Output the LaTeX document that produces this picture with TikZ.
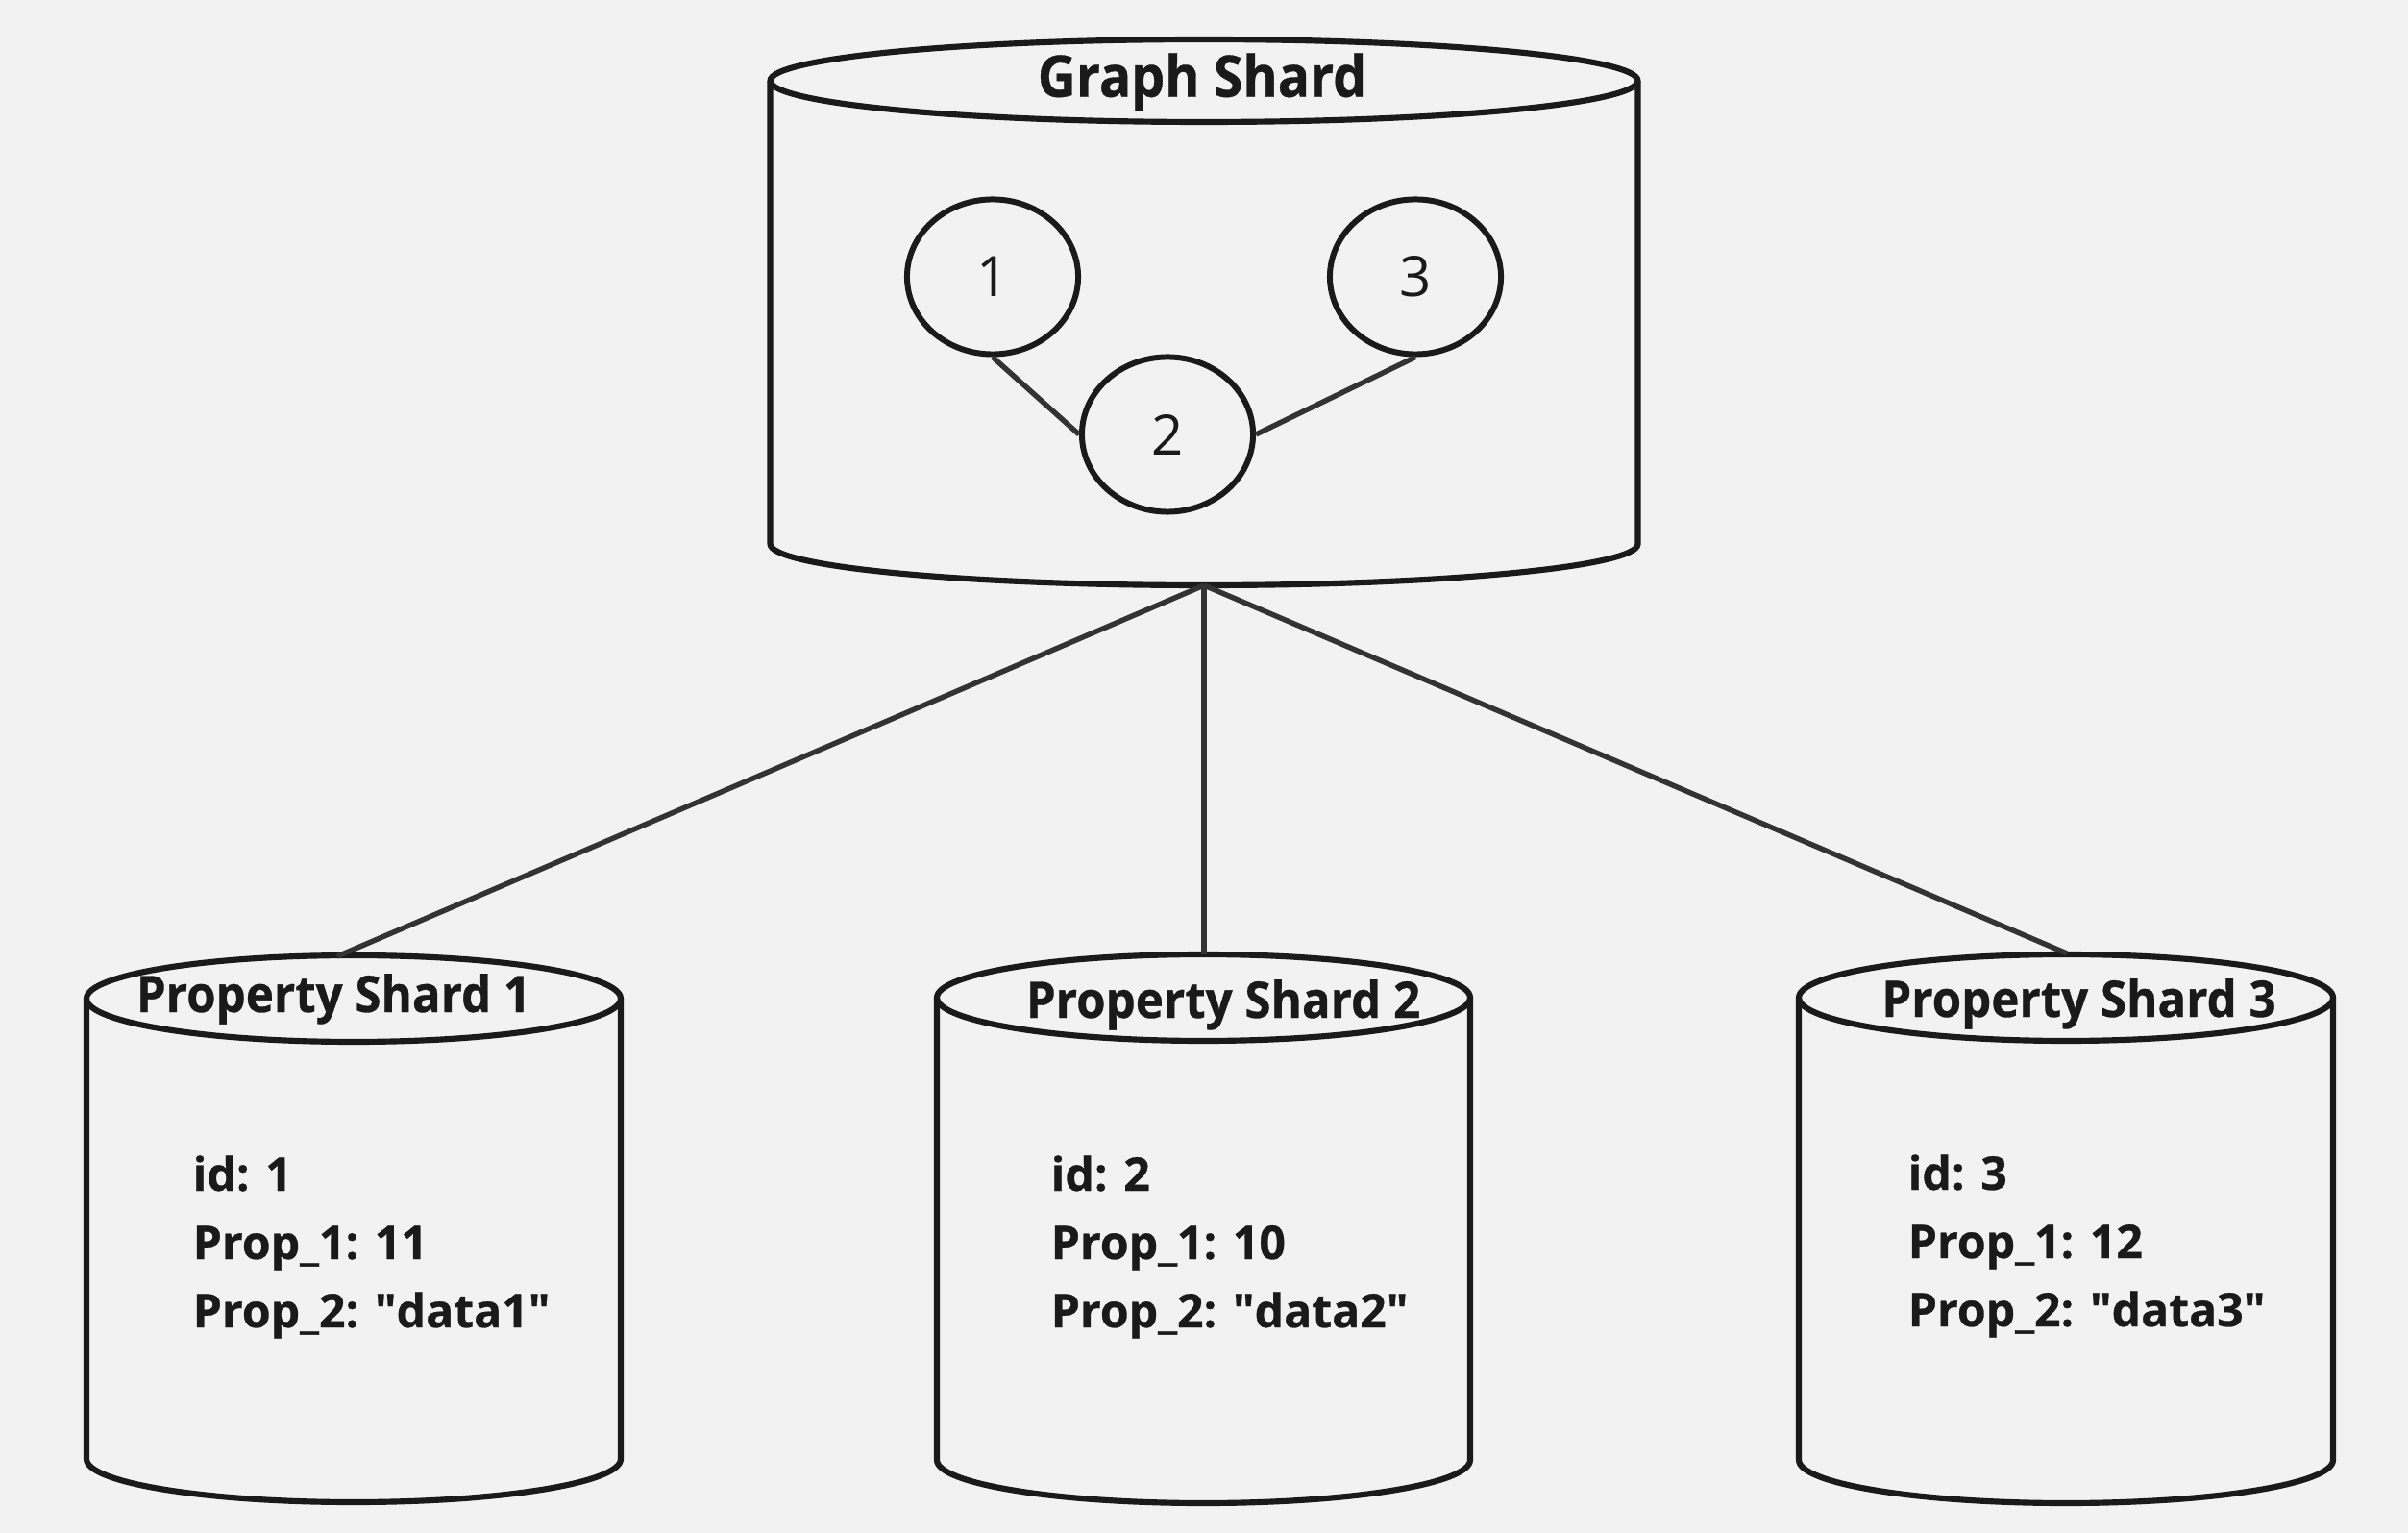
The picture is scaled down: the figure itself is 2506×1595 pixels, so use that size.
\documentclass[tikz,border=0pt]{standalone}
\usepackage{fontspec}
\setmainfont{Open Sans}[BoldFeatures={FakeBold=0.6}]
\usetikzlibrary{shapes.geometric}
\definecolor{bg}{HTML}{F2F2F2}
\definecolor{ink}{HTML}{1A1A1A}
\definecolor{conncol}{HTML}{333333}
\font\dqfont="Open Sans/B:embolden=0.6" at 13.7pt
\newcommand{\dq}{{\dqfont\char34}}
\newcommand{\gsx}[1]{\scalebox{0.925}[1]{#1}}
\newcommand{\psx}[1]{\scalebox{0.94}[1]{#1}}
\tikzset{
  cylline/.style={draw=ink, line width=1.75pt, line join=round},
  conn/.style={draw=conncol, line width=1.55pt},
  vertex/.style={ellipse, draw=ink, line width=1.7pt, minimum width=1.78cm, minimum height=1.61cm, inner sep=0pt, font=\fontsize{16.5}{19}\selectfont, text=ink},
  gtitle/.style={anchor=base, inner sep=0pt, font=\fontsize{17}{20}\selectfont\bfseries, text=ink},
  ptitle/.style={anchor=base, inner sep=0pt, font=\fontsize{14.9}{18}\selectfont\bfseries, text=ink},
  body/.style={anchor=base west, inner sep=0pt, font=\fontsize{13.7}{16}\selectfont\bfseries, text=ink},
}
\begin{document}
\begin{tikzpicture}[x=0.01cm, y=0.01cm]
\fill[bg] (0,0) rectangle (2506,-1595);
\useasboundingbox (0,0) rectangle (2506,-1595);

% Graph shard cylinder
\draw[cylline] (801.5,-84) -- (801.5,-566) arc[start angle=180, end angle=360, x radius=451.5, y radius=43] -- (1704.5,-84);
\draw[cylline] (1253,-84) ellipse[x radius=451.5, y radius=43];
\node[gtitle] (gst) at (1251,-100.7) {\gsx{Graph Shard}};
\coordinate (gsb) at (1253,-609);

% vertices
\node[vertex] (n1) at (1033,-288) {1};
\node[vertex] (n3) at (1473,-288) {3};
\node[vertex] (n2) at (1215,-452) {2};
\draw[conn] (n1.south) -- (n2.west);
\draw[conn] (n3.south) -- (n2.east);

% Property shard 1
\draw[cylline] (90,-1039) -- (90,-1518) arc[start angle=180, end angle=360, x radius=278, y radius=45] -- (646,-1039);
\draw[cylline] (368,-1039) ellipse[x radius=278, y radius=45];
\node[ptitle] (p1t) at (347,-1053) {\psx{Property Shard 1}};
\node[body] (p1a) at (200,-1239) {id: 1};
\node[body] (p1b) at (200,-1310) {Prop\_1: 11};
\node[body] (p1c) at (200,-1381) {Prop\_2: \dq data1\dq};
\coordinate (ps1) at (351,-995);

% Property shard 2
\draw[cylline] (975,-1038) -- (975,-1519) arc[start angle=180, end angle=360, x radius=277.5, y radius=45] -- (1530,-1038);
\draw[cylline] (1252.5,-1038) ellipse[x radius=277.5, y radius=45];
\node[ptitle] (p2t) at (1273,-1059) {\psx{Property Shard 2}};
\node[body] (p2a) at (1093,-1239) {id: 2};
\node[body] (p2b) at (1093,-1310) {Prop\_1: 10};
\node[body] (p2c) at (1093,-1381) {Prop\_2: \dq data2\dq};
\coordinate (ps2) at (1253,-993);

% Property shard 3
\draw[cylline] (1872,-1038) -- (1872,-1519) arc[start angle=180, end angle=360, x radius=278, y radius=45] -- (2428,-1038);
\draw[cylline] (2150,-1038) ellipse[x radius=278, y radius=45];
\node[ptitle] (p3t) at (2163.5,-1058) {\psx{Property Shard 3}};
\node[body] (p3a) at (1985,-1238) {id: 3};
\node[body] (p3b) at (1985,-1309) {Prop\_1: 12};
\node[body] (p3c) at (1985,-1380) {Prop\_2: \dq data3\dq};
\coordinate (ps3) at (2151,-992);

% connectors
\draw[conn] (gsb) -- (ps1);
\draw[conn] (gsb) -- (ps2);
\draw[conn] (gsb) -- (ps3);
\end{tikzpicture}
\end{document}
